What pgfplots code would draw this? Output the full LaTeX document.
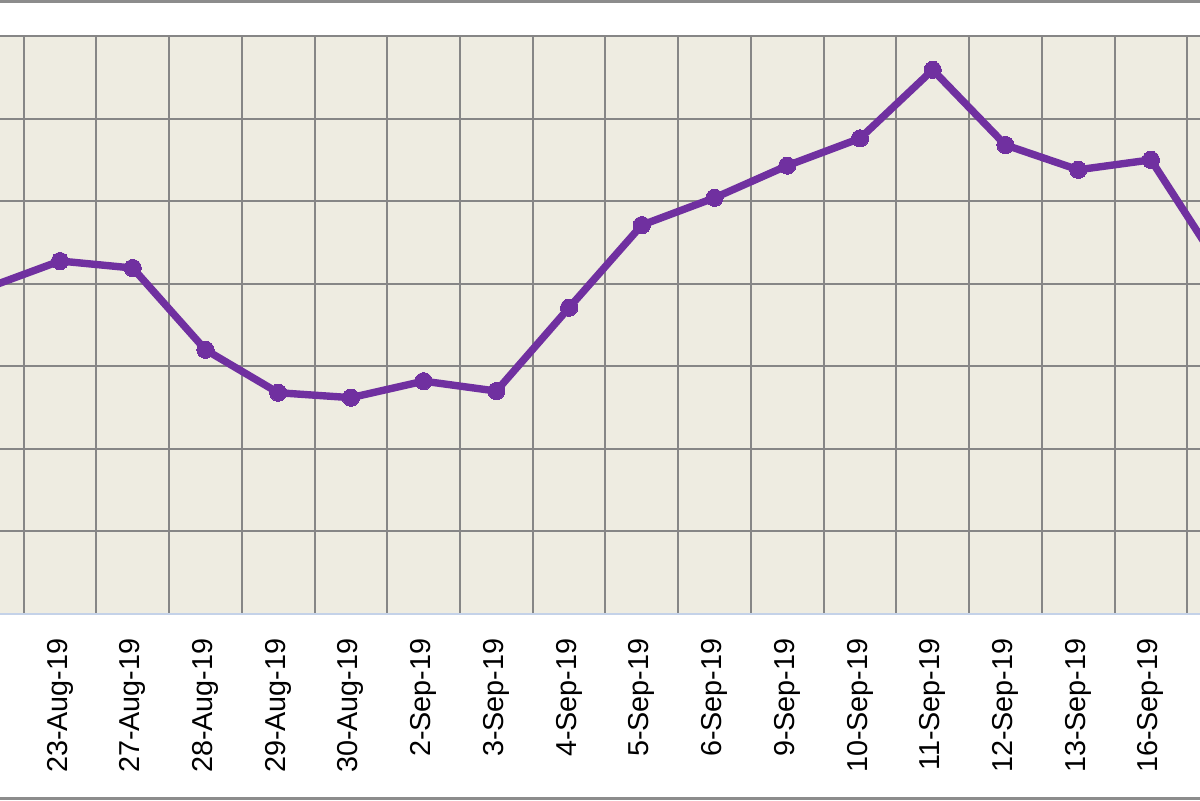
\documentclass[border=0pt]{standalone}
\usepackage{fontspec}
\setmainfont{Liberation Sans}
\usepackage{pgfplots}
\pgfplotsset{compat=1.18}

\definecolor{plotbg}{RGB}{238,236,225}
\definecolor{gridgray}{RGB}{134,134,134}
\definecolor{linepurple}{RGB}{112,48,160}
\definecolor{axisblue}{RGB}{196,210,232}
\definecolor{framegray}{RGB}{140,140,140}

\begin{document}
\begin{tikzpicture}
\path[use as bounding box, clip] (0,0) rectangle (600pt,400pt);
\draw[framegray, line width=1.4pt] (0,399.3pt) -- (600pt,399.3pt);
\draw[framegray, line width=1.4pt] (0,0.7pt) -- (600pt,0.7pt);
\begin{axis}[
  at={(0pt,93pt)}, anchor=south west,
  scale only axis,
  width=600pt, height=289pt,
  xmin=0.175, xmax=16.675,
  ymin=0, ymax=7,
  axis line style={draw=none},
  axis background/.style={fill=plotbg},
  xtick={0,...,17},
  xticklabels={22-Aug-19,23-Aug-19,27-Aug-19,28-Aug-19,29-Aug-19,30-Aug-19,2-Sep-19,3-Sep-19,4-Sep-19,5-Sep-19,6-Sep-19,9-Sep-19,10-Sep-19,11-Sep-19,12-Sep-19,13-Sep-19,16-Sep-19,17-Sep-19},
  minor xtick={-0.5,0.5,...,17.5},
  ytick={0,...,7},
  yticklabels={},
  major tick length=0pt, minor tick length=0pt,
  xmajorgrids=false, xminorgrids=true, ymajorgrids=true,
  grid style={gridgray, line width=1pt},
  minor grid style={gridgray, line width=1pt},
  xticklabel style={rotate=90, anchor=east, inner sep=0pt,
    font=\fontsize{14.4}{16}\selectfont},
  xticklabel shift=12pt,
]
\addplot[linepurple, line width=3.7pt, mark=*, mark size=4.3pt,
  mark options={fill=linepurple, draw=linepurple, line width=0pt}]
coordinates {
 (0,3.95) (1,4.275) (2,4.19) (3,3.20) (4,2.68) (5,2.62) (6,2.82)
 (7,2.70) (8,3.71) (9,4.71) (10,5.04) (11,5.43) (12,5.76) (13,6.59)
 (14,5.68) (15,5.38) (16,5.50) (17,4.14)
};
\draw[axisblue, line width=1.2pt] (rel axis cs:0,0) -- (rel axis cs:1,0);
\end{axis}
\end{tikzpicture}
\end{document}
